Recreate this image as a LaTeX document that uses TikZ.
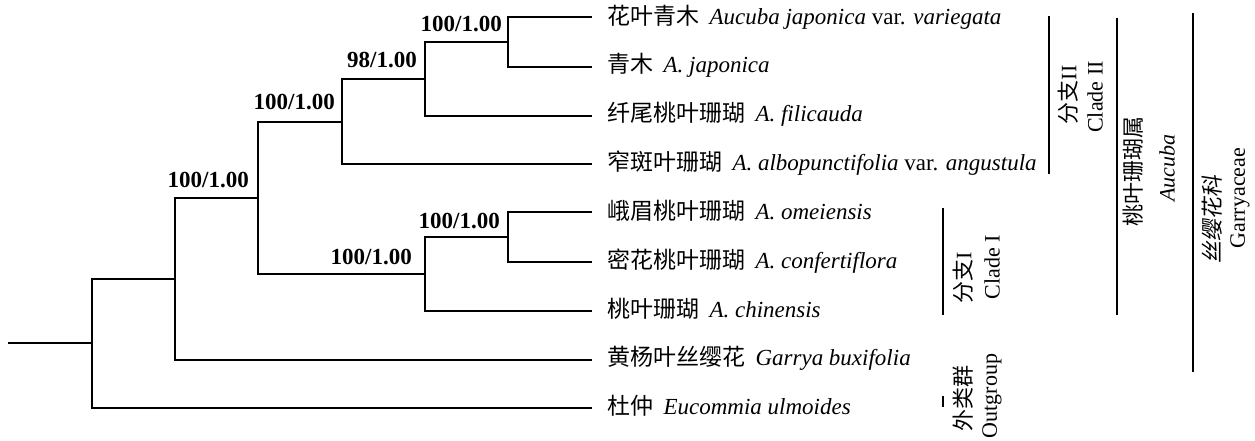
\documentclass[tikz,border=0pt]{standalone}
\usepackage{fontspec}
\setmainfont{Liberation Serif}
\newfontfamily\cjk{Noto Sans CJK SC}
\newfontfamily\cjksl[FakeSlant=0.15]{Noto Sans CJK SC}
\newcommand{\zh}[1]{{\cjk #1}}
\newcommand{\zhsl}[1]{{\cjksl #1}}
\newcommand{\gp}{\hspace{0.45em}}
\begin{document}
\begin{tikzpicture}[x=1pt,y=-1pt,
  br/.style={line width=2.7pt, line join=miter},
  bar/.style={line width=2.6pt},
  leaf/.style={anchor=base west, inner sep=0pt, font=\fontsize{23}{27}\selectfont},
  bs/.style={anchor=base east, inner sep=0pt, font=\fontsize{23}{27}\selectfont\bfseries},
  rot/.style={rotate=90, anchor=center, inner sep=0pt, font=\fontsize{22}{26}\selectfont}]
\useasboundingbox (0,0) rectangle (1255,441);
% internal nodes
\coordinate (r0) at (8,343);
\coordinate (A) at (92,343);
\coordinate (B) at (175,279);
\coordinate (C) at (258,198);
\coordinate (D) at (342,122);
\coordinate (E) at (425,79);
\coordinate (F) at (508,42);
\coordinate (G) at (425,274);
\coordinate (H) at (508,237);
% leaf ends
\coordinate (e1) at (592,17);
\coordinate (e2) at (592,67);
\coordinate (e3) at (592,116);
\coordinate (e4) at (592,164);
\coordinate (e5) at (592,212);
\coordinate (e6) at (592,262);
\coordinate (e7) at (592,311);
\coordinate (e8) at (592,360);
\coordinate (e9) at (592,408);
% tree
\draw[br] (r0) -- (A);
\draw[br] (B) -| (A) |- (e9);
\draw[br] (C) -| (B) |- (e8);
\draw[br] (D) -| (C) |- (G);
\draw[br] (E) -| (D) |- (e4);
\draw[br] (F) -| (E) |- (e3);
\draw[br] (e1) -| (F) |- (e2);
\draw[br] (H) -| (G) |- (e7);
\draw[br] (e5) -| (H) |- (e6);
% leaf labels
\node[leaf] (l1) at (607,25) {\zh{花叶青木}\gp\textit{Aucuba japonica} var. \textit{variegata}};
\node[leaf] (l2) at (607,73) {\zh{青木}\gp\textit{A. japonica}};
\node[leaf] (l3) at (607,122) {\zh{纤尾桃叶珊瑚}\gp\textit{A. filicauda}};
\node[leaf] (l4) at (607,170) {\zh{窄斑叶珊瑚}\gp\textit{A. albopunctifolia} var. \textit{angustula}};
\node[leaf] (l5) at (607,219) {\zh{峨眉桃叶珊瑚}\gp\textit{A. omeiensis}};
\node[leaf] (l6) at (607,268) {\zh{密花桃叶珊瑚}\gp\textit{A. confertiflora}};
\node[leaf] (l7) at (607,317) {\zh{桃叶珊瑚}\gp\textit{A. chinensis}};
\node[leaf] (l8) at (607,365) {\zh{黄杨叶丝缨花}\gp\textit{Garrya buxifolia}};
\node[leaf] (l9) at (607,414) {\zh{杜仲}\gp\textit{Eucommia ulmoides}};
% support values
\node[bs] (sF) at (502,32) {100/1.00};
\node[bs] (sE) at (417,68) {98/1.00};
\node[bs] (sD) at (335,110) {100/1.00};
\node[bs] (sC) at (249,187) {100/1.00};
\node[bs] (sH) at (500,228) {100/1.00};
\node[bs] (sG) at (412,264) {100/1.00};
% group bars
\coordinate (c2a) at (1049,16);  \coordinate (c2b) at (1049,174);
\coordinate (aua) at (1117,18);  \coordinate (aub) at (1117,315);
\coordinate (gaa) at (1193,13);  \coordinate (gab) at (1193,372);
\coordinate (c1a) at (943,208);  \coordinate (c1b) at (943,315);
\coordinate (oga) at (943,396);  \coordinate (ogb) at (943,407);
\draw[bar] (c2a) -- (c2b);
\draw[bar] (aua) -- (aub);
\draw[bar] (gaa) -- (gab);
\draw[bar] (c1a) -- (c1b);
\draw[bar] (oga) -- (ogb);
% group labels
\node[rot] (t2a) at (1068,95) {\zh{分支}II};
\node[rot] (t2b) at (1095,97) {Clade II};
\node[rot] (tua) at (1133,171) {\zh{桃叶珊瑚属}};
\node[rot] (tub) at (1167,168) {\textit{Aucuba}};
\node[rot] (tga) at (1212,219) {\zhsl{丝缨花科}};
\node[rot] (tgb) at (1240,198) {Garryaceae};
\node[rot] (t1a) at (963,278) {\zh{分支}I};
\node[rot] (t1b) at (992,267) {Clade I};
\node[rot] (toa) at (963,398) {\zh{外类群}};
\node[rot] (tob) at (992,396) {Outgroup};
\end{tikzpicture}
\end{document}
